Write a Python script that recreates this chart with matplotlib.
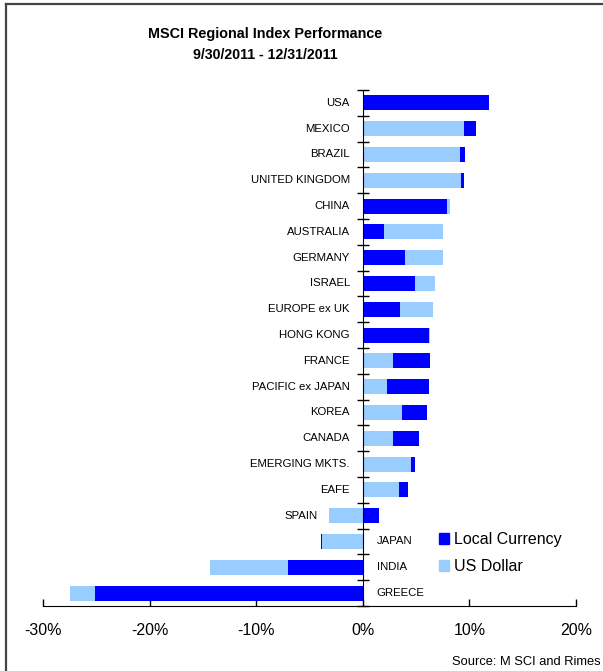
import numpy as np
import matplotlib
matplotlib.use("Agg")
import matplotlib.pyplot as plt
from matplotlib.patches import Patch
from matplotlib.lines import Line2D

plt.rcParams["font.family"] = ["Liberation Sans", "DejaVu Sans"]

countries = ["USA", "MEXICO", "BRAZIL", "UNITED KINGDOM", "CHINA", "AUSTRALIA",
             "GERMANY", "ISRAEL", "EUROPE ex UK", "HONG KONG", "FRANCE",
             "PACIFIC ex JAPAN", "KOREA", "CANADA", "EMERGING MKTS.", "EAFE",
             "SPAIN", "JAPAN", "INDIA", "GREECE"]
local = [11.8, 10.6, 9.6, 9.5, 7.9, 2.0, 4.0, 4.9, 3.5, 6.2, 6.3, 6.2, 6.0, 5.3,
         4.9, 4.2, 1.5, -3.9, -7.0, -25.1]
usd = [11.8, 9.5, 9.1, 9.2, 8.2, 7.5, 7.5, 6.8, 6.6, 6.3, 2.8, 2.3, 3.7, 2.8,
       4.5, 3.4, -3.2, -3.8, -14.3, -27.5]

dark = "#0000FF"
light = "#99CCFF"

fig = plt.figure(figsize=(6.03, 6.71), dpi=100)
ax = fig.add_axes([0.0713, 0.0969, 0.8839, 0.769])

y = np.arange(len(countries))
b_loc = ax.barh(y, local, height=0.58, color=dark, label="Local Currency")
b_usd = ax.barh(y, usd, height=0.58, color=light, label="US Dollar")
# shorter bar of each pair sits in front
for pl, pu, l, u in zip(b_loc, b_usd, local, usd):
    if abs(l) <= abs(u):
        pl.set_zorder(3); pu.set_zorder(2)
    else:
        pl.set_zorder(2); pu.set_zorder(3)

ax.set_xlim(-30, 20)
ax.set_ylim(len(countries) - 0.5, -0.5)

for s in ["top", "right"]:
    ax.spines[s].set_visible(False)
ax.spines["left"].set_position(("data", 0))
ax.spines["left"].set_zorder(5)

ax.set_yticks(np.arange(-0.5, len(countries), 1))
ax.set_yticklabels([])
ax.tick_params(axis="y", direction="inout", length=8, width=1)

xt = [-30, -20, -10, 0, 10, 20]
ax.set_xticks(xt)
ax.set_xticklabels([f"{v}%" for v in xt], fontsize=11.5)
ax.tick_params(axis="x", direction="in", length=5, width=1, pad=12)

# category labels next to the axis (or next to negative bars)
for i, name in enumerate(countries):
    if name in ("JAPAN", "INDIA", "GREECE"):
        ax.text(1.3, i, name, ha="left", va="center", fontsize=8.2)
    elif usd[i] < 0 or local[i] < 0:
        ax.text(min(usd[i], local[i]) - 1.0, i, name, ha="right", va="center", fontsize=8.2)
    else:
        ax.text(-1.2, i, name, ha="right", va="center", fontsize=8.2)

handles = [Patch(color=dark), Patch(color=light)]
fig.legend(handles, ["Local Currency", "US Dollar"], loc="upper left",
           bbox_to_anchor=(0.728, 0.207), frameon=False, fontsize=11.5,
           handlelength=0.65, handleheight=0.65, handletextpad=0.3,
           labelspacing=0.75, borderpad=0, borderaxespad=0)

fig.text(0.44, 1 - 34 / 671, "MSCI Regional Index Performance", ha="center",
         va="center", fontsize=10.4, fontweight="bold")
fig.text(0.44, 1 - 55 / 671, "9/30/2011 - 12/31/2011", ha="center",
         va="center", fontsize=10.2, fontweight="bold")
fig.text(452 / 603, 1 - 662 / 671, "Source: M SCI and Rimes", ha="left",
         va="center", fontsize=9.3)

# frame lines at top and left edge
fig.add_artist(Line2D([6 / 603, 1], [1 - 4 / 671, 1 - 4 / 671], color="#444444", lw=1.6))
fig.add_artist(Line2D([6 / 603, 6 / 603], [0, 1 - 4 / 671], color="#444444", lw=1.6))

fig.savefig("out.png", dpi=100)
